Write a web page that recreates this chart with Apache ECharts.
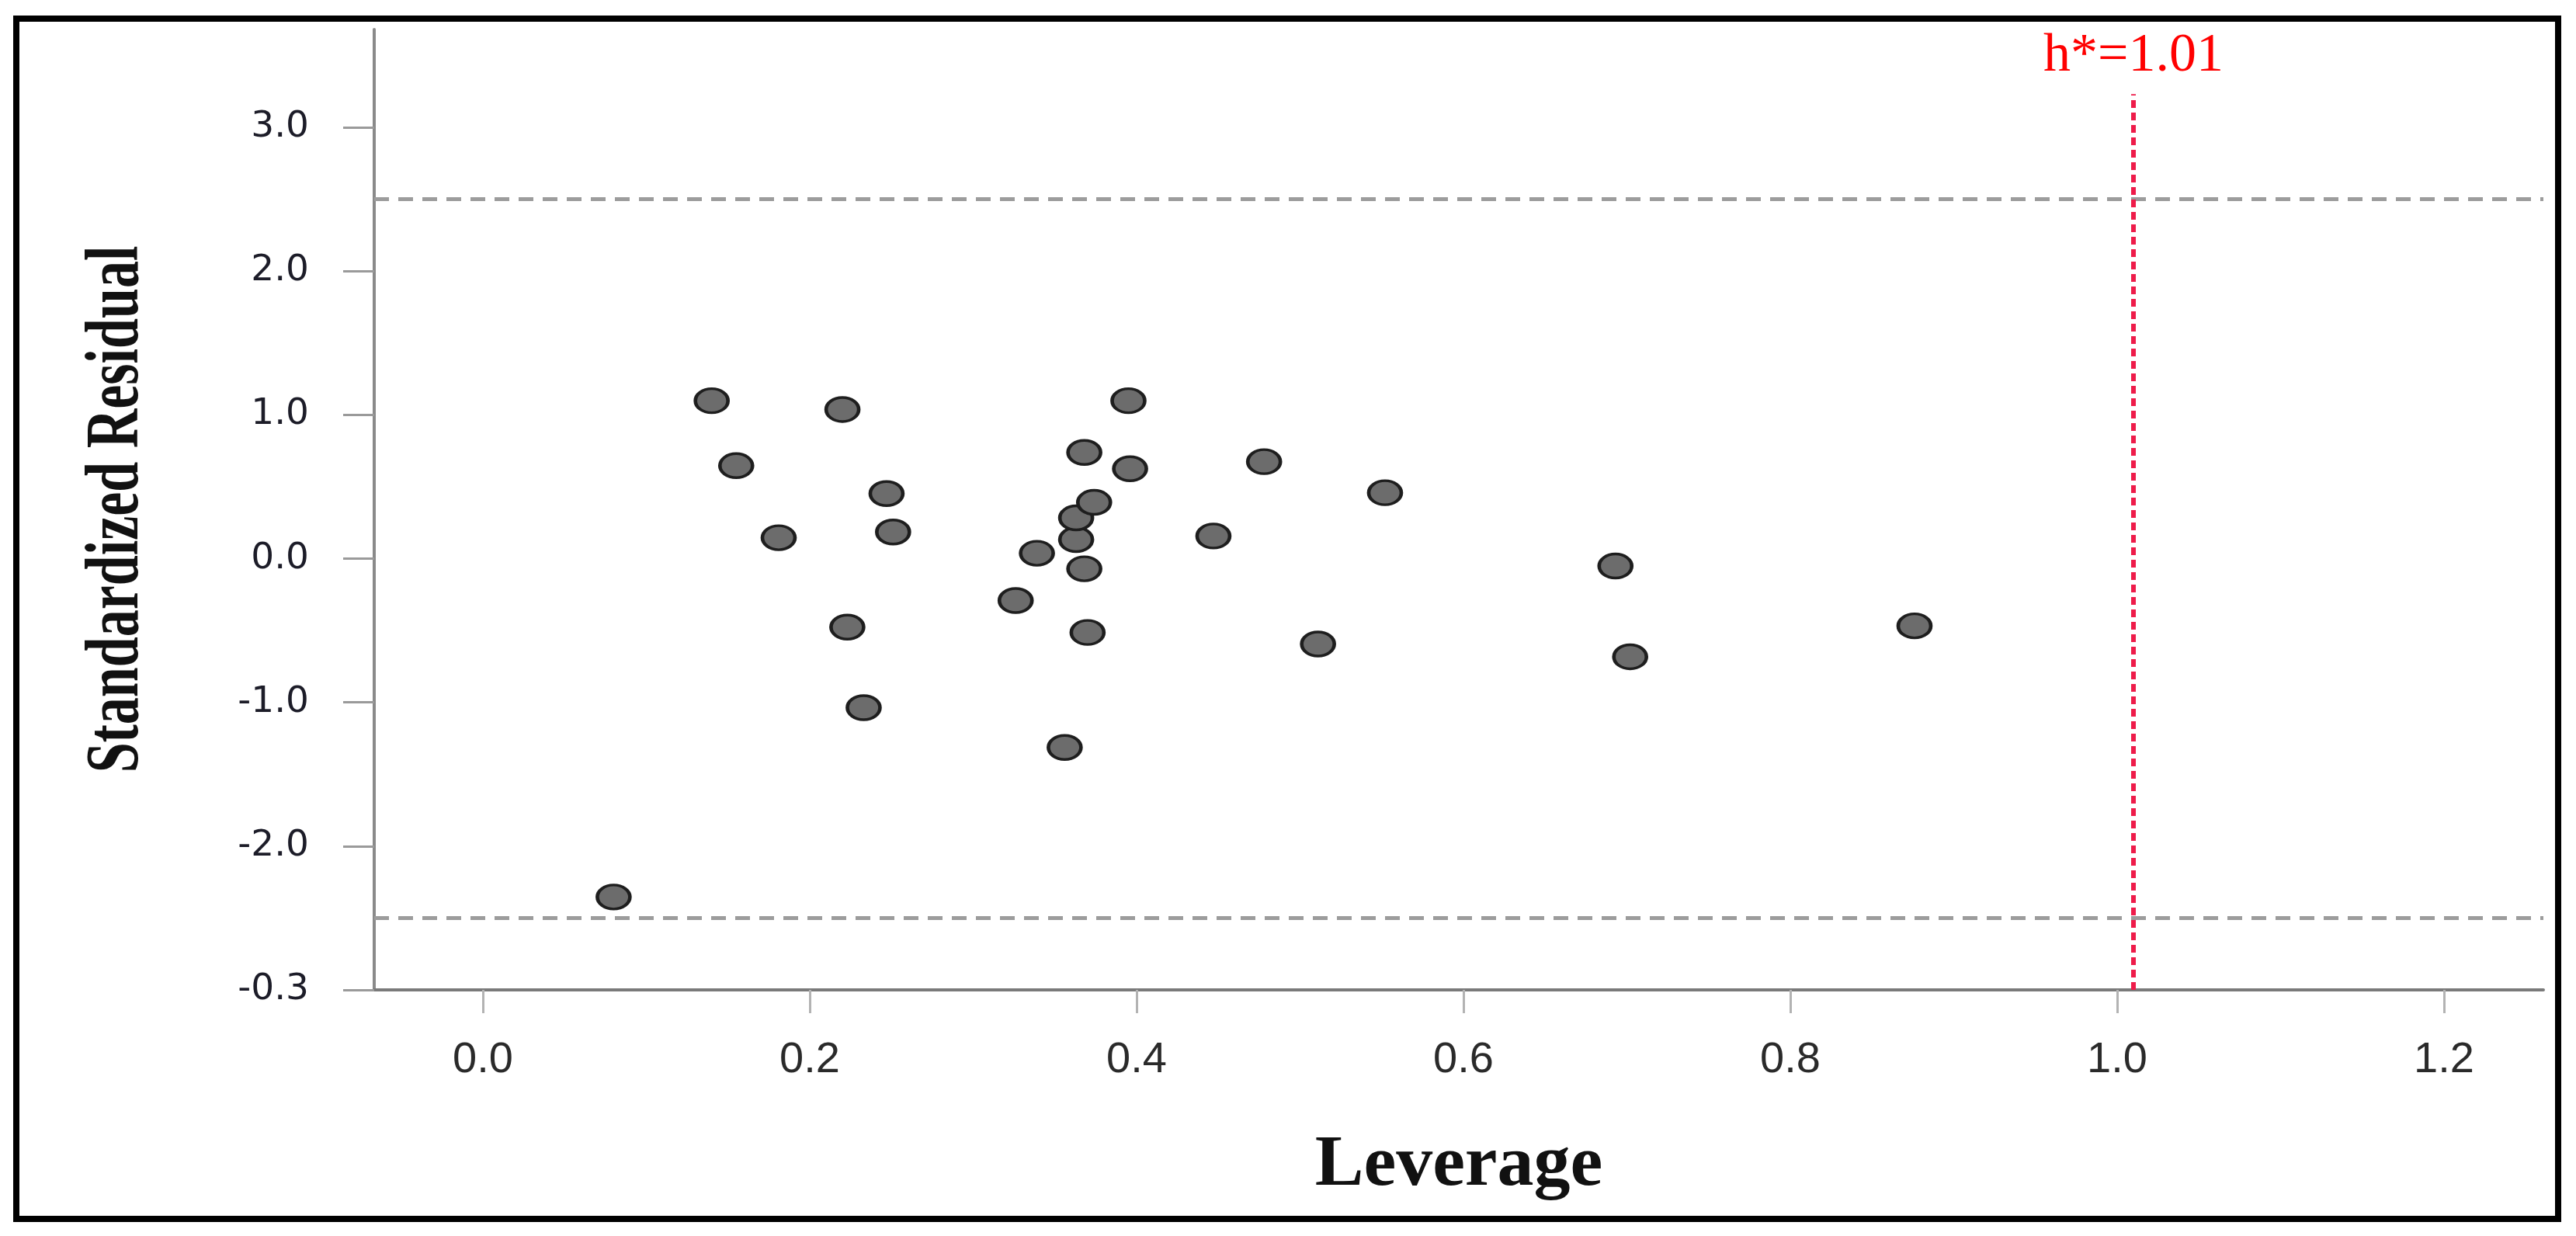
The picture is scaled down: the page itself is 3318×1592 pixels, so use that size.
<!DOCTYPE html>
<html>
<head>
<meta charset="utf-8">
<title>Williams plot</title>
<script src="https://cdn.jsdelivr.net/npm/echarts@6/dist/echarts.min.js"></script>
<style>
  html, body { margin: 0; padding: 0; background: #fff; }
  #chart { width: 3318px; height: 1592px; }
</style>
</head>
<body>
<div id="chart"></div>
<script>
// values
const leverage = [0.080, 0.140, 0.155, 0.181, 0.220, 0.223, 0.233, 0.247, 0.251,
    0.326, 0.339, 0.356, 0.363, 0.363, 0.368, 0.368, 0.370, 0.374,
    0.395, 0.396, 0.447, 0.478, 0.511, 0.552, 0.693, 0.702, 0.876]
const residual = [-2.354, 1.098, 0.646, 0.145, 1.037, -0.477, -1.037, 0.452, 0.185,
    -0.292, 0.037, -1.314, 0.132, 0.283, 0.738, -0.071, -0.514, 0.391,
    1.098, 0.625, 0.157, 0.674, -0.594, 0.458, -0.052, -0.683, -0.468]

const xTickValues = [0, 0.2, 0.4, 0.6, 0.8, 1.0, 1.2]
const xTickLabels = ['0.0', '0.2', '0.4', '0.6', '0.8', '1.0', '1.2']
const yTickValues = [-3, -2, -1, 0, 1, 2, 3]
// the bottom label really reads "-0.3" in the original figure
const yTickLabels = ['-0.3', '-2.0', '-1.0', '0.0', '1.0', '2.0', '3.0']

const residualLimits = [2.5, -2.5]
const hStar = 1.01
const hStarTop = 3.23

const pickLabel = (values, labels) => (v) => {
    const i = values.findIndex(t => Math.abs(t - v) < 1e-6)
    return i < 0 ? '' : labels[i]
}

const chartDom = document.getElementById('chart')
const myChart = echarts.init(chartDom, null, { renderer: 'canvas' })

const option = {
    animation: false,
    backgroundColor: '#ffffff',
    grid: {
        left: 482,
        right: 42,
        top: 38,
        bottom: 317
    },
    xAxis: {
        type: 'value',
        min: -0.0665,
        max: 1.2608,
        name: 'Leverage',
        nameLocation: 'middle',
        nameGap: 180,
        nameTextStyle: {
            fontFamily: 'Liberation Serif',
            fontWeight: 'bold',
            fontSize: 94,
            color: '#111'
        },
        splitLine: { show: false },
        axisLine: {
            onZero: false,
            lineStyle: { color: '#7a7a7a', width: 4 }
        },
        axisTick: {
            show: true,
            customValues: xTickValues,
            length: 30,
            lineStyle: { color: '#b3b3b3', width: 3 }
        },
        axisLabel: {
            customValues: xTickValues,
            margin: 63,
            fontFamily: 'Liberation Sans',
            fontSize: 56,
            color: '#2a2a2a',
            formatter: pickLabel(xTickValues, xTickLabels)
        }
    },
    yAxis: {
        type: 'value',
        min: -3,
        max: 3.68,
        splitLine: { show: false },
        axisLine: {
            show: true,
            onZero: false,
            lineStyle: { color: '#8a8a8a', width: 4 }
        },
        axisTick: {
            show: true,
            customValues: yTickValues,
            length: 40,
            lineStyle: { color: '#9a9a9a', width: 3 }
        },
        axisLabel: {
            customValues: yTickValues,
            margin: 84,
            fontFamily: 'DejaVu Sans',
            fontSize: 47,
            color: '#1c1c28',
            formatter: pickLabel(yTickValues, yTickLabels)
        }
    },
    graphic: [
        {
            // outer frame of the figure
            type: 'rect',
            shape: { x: 21, y: 24, width: 3274, height: 1546 },
            style: { fill: 'none', stroke: '#000', lineWidth: 8 },
            silent: true
        },
        {
            // y title, drawn as text so it can be stretched like the original
            type: 'text',
            x: 152,
            y: 656,
            rotation: Math.PI / 2,
            scaleY: 1.38,
            style: {
                text: 'Standardized Residual',
                fontFamily: 'Liberation Serif',
                fontWeight: 'bold',
                fontSize: 70,
                fill: '#111',
                align: 'center',
                verticalAlign: 'middle'
            },
            silent: true
        }
    ],
    series: [
        {
            type: 'scatter',
            data: leverage.map((x, i) => [x, residual[i]]),
            symbol: 'circle',
            symbolSize: [42, 31],
            itemStyle: {
                color: '#6c6c6c',
                borderColor: '#1e1e1e',
                borderWidth: 4,
                opacity: 1
            },
            markLine: {
                silent: true,
                symbol: 'none',
                animation: false,
                data: [
                    ...residualLimits.map(v => ({
                        yAxis: v,
                        label: { show: false },
                        lineStyle: { color: '#9c9c9c', width: 5, type: [19, 12] }
                    })),
                    [
                        { coord: [hStar, -3] },
                        {
                            coord: [hStar, hStarTop],
                            label: {
                                show: true,
                                position: 'end',
                                distance: 14,
                                formatter: 'h*=' + hStar.toFixed(2),
                                fontFamily: 'Liberation Serif',
                                fontSize: 70,
                                color: '#ff0000'
                            }
                        }
                    ]
                ],
                lineStyle: { color: '#ee1c4a', width: 6, type: [10, 6] }
            }
        }
    ]
}

myChart.setOption(option)
</script>
</body>
</html>
